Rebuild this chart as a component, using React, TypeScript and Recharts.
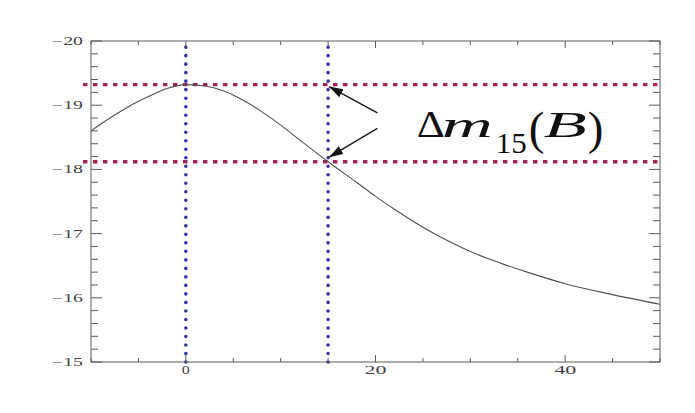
import { LineChart, Line, XAxis, YAxis, ReferenceLine, ReferenceDot } from 'recharts'

// B-band light curve (days from max vs absolute magnitude)
const days = [-10, -8, -6, -4, -2, 0, 2, 4, 6, 8, 10, 12, 15, 18, 20, 22, 25, 28, 30, 33, 36, 40, 45, 50]
const bMag = [
  -18.6, -18.8, -18.98, -19.13, -19.26, -19.32, -19.3, -19.22, -19.08, -18.9, -18.69, -18.46, -18.12,
  -17.8, -17.58, -17.38, -17.1, -16.86, -16.72, -16.55, -16.4, -16.22, -16.05, -15.9,
]

const xTicks = [-10, -5, 0, 5, 10, 15, 20, 25, 30, 35, 40, 45, 50]
const xLabelled = [0, 20, 40]
const yTicks = [
  -20, -19.8, -19.6, -19.4, -19.2, -19, -18.8, -18.6, -18.4, -18.2, -18, -17.8, -17.6, -17.4, -17.2, -17,
  -16.8, -16.6, -16.4, -16.2, -16, -15.8, -15.6, -15.4, -15.2, -15,
]
const yLabelled = [-20, -19, -18, -17, -16, -15]

const peakDay = 0
const laterDay = 15
const peakMag = -19.32
const laterMag = -18.12

// annotation anchors (data coords)
const arrowTail = { x: 20.2, yTop: -18.88, yBottom: -18.64 }
const labelAnchor = { x: 24.35, y: -18.505 }

const data = days.map((day, i) => ({ day, mag: bMag[i] }))

const AXIS = '#5a5a5a'
const LABEL_FONT = '"Liberation Serif", "DejaVu Serif", serif'
const RED = '#a3245a'
const BLUE = '#3434a6'

const fmt = (v: number) => (v < 0 ? `\u2212${Math.abs(v)}` : `${v}`)

function BottomTick({ x, y, payload }: any) {
  const major = xLabelled.includes(payload.value)
  return (
    <g>
      <line x1={x} x2={x} y1={y} y2={y - (major ? 7 : 4)} stroke={AXIS} />
      {major && (
        <text
          x={x}
          y={y + 12}
          textAnchor="middle"
          fontFamily={LABEL_FONT}
          fontSize={12}
          fill="#444"
          textLength={payload.value === 0 ? 8 : 22}
          lengthAdjust="spacingAndGlyphs"
        >
          {payload.value}
        </text>
      )}
    </g>
  )
}

function TopTick({ x, y, payload }: any) {
  const major = xLabelled.includes(payload.value)
  return <line x1={x} x2={x} y1={y} y2={y + (major ? 7 : 4)} stroke={AXIS} />
}

function LeftTick({ x, y, payload }: any) {
  const major = yLabelled.includes(payload.value)
  return (
    <g>
      <line x1={x} x2={x + (major ? 11 : 7)} y1={y} y2={y} stroke={AXIS} />
      {major && (
        <text
          x={x - 39}
          y={y + 4}
          textAnchor="start"
          fontFamily={LABEL_FONT}
          fontSize={12}
          fill="#444"
          textLength={31}
          lengthAdjust="spacingAndGlyphs"
        >
          {fmt(payload.value)}
        </text>
      )}
    </g>
  )
}

function RightTick({ x, y, payload }: any) {
  const major = yLabelled.includes(payload.value)
  return <line x1={x} x2={x - (major ? 11 : 7)} y1={y} y2={y} stroke={AXIS} />
}

function Arrow(props: any) {
  const { x1, y1, x2, y2 } = props
  return <line x1={x1} y1={y1} x2={x2} y2={y2} stroke="#1a1a1a" strokeWidth={1.4} markerEnd="url(#arrowHead)" />
}

function DeltaLabel({ cx, cy }: any) {
  const common = { fontFamily: LABEL_FONT, fill: '#111' }
  return (
    <g>
      <text x={cx} y={cy} fontSize={37} textLength={28} lengthAdjust="spacingAndGlyphs" {...common}>
        Δ
      </text>
      <text x={cx + 25} y={cy} fontSize={36} fontStyle="italic" textLength={51} lengthAdjust="spacingAndGlyphs" {...common}>
        m
      </text>
      <text x={cx + 79} y={cy + 16} fontSize={29} textLength={31} lengthAdjust="spacingAndGlyphs" {...common}>
        15
      </text>
      <text x={cx + 112} y={cy + 7} fontSize={47} {...common}>
        (
      </text>
      <text x={cx + 127} y={cy} fontSize={36} fontStyle="italic" textLength={43} lengthAdjust="spacingAndGlyphs" {...common}>
        B
      </text>
      <text x={cx + 171} y={cy + 7} fontSize={47} {...common}>
        )
      </text>
    </g>
  )
}

export default function App() {
  return (
    <div style={{ position: 'absolute', left: 0, top: 0, width: 695, height: 413, background: '#fff' }}>
      <LineChart width={695} height={413} data={data} margin={{ top: 0, right: 0, bottom: 0, left: 0 }}>
        <defs>
          <marker
            id="arrowHead"
            viewBox="0 0 14 9"
            refX={14}
            refY={4.5}
            markerWidth={14}
            markerHeight={9}
            markerUnits="userSpaceOnUse"
            orient="auto"
          >
            <path d="M0,0 L14,4.5 L0,9 z" fill="#111" />
          </marker>
        </defs>
        <XAxis
          xAxisId="bottom"
          dataKey="day"
          type="number"
          domain={[-10, 50]}
          allowDataOverflow
          ticks={xTicks}
          interval={0}
          height={51}
          tickSize={0}
          tickMargin={0}
          tickLine={false}
          tick={BottomTick}
          axisLine={{ stroke: AXIS }}
        />
        <XAxis
          xAxisId="top"
          orientation="top"
          dataKey="day"
          type="number"
          domain={[-10, 50]}
          allowDataOverflow
          ticks={xTicks}
          interval={0}
          height={41}
          tickSize={0}
          tickMargin={0}
          tickLine={false}
          tick={TopTick}
          axisLine={{ stroke: AXIS }}
        />
        <YAxis
          yAxisId="left"
          type="number"
          domain={[-20, -15]}
          reversed
          allowDataOverflow
          ticks={yTicks}
          interval={0}
          width={91}
          tickSize={0}
          tickMargin={0}
          tickLine={false}
          tick={LeftTick}
          axisLine={{ stroke: AXIS }}
        />
        <YAxis
          yAxisId="right"
          orientation="right"
          type="number"
          domain={[-20, -15]}
          reversed
          allowDataOverflow
          ticks={yTicks}
          interval={0}
          width={35}
          tickSize={0}
          tickMargin={0}
          tickLine={false}
          tick={RightTick}
          axisLine={{ stroke: AXIS }}
        />
        <ReferenceLine
          xAxisId="bottom"
          yAxisId="left"
          segment={[
            { x: -10.85, y: peakMag },
            { x: 50, y: peakMag },
          ]}
          ifOverflow="visible"
          stroke={RED}
          strokeWidth={3.4}
          strokeDasharray="4.5 5.5"
        />
        <ReferenceLine
          xAxisId="bottom"
          yAxisId="left"
          segment={[
            { x: -10.85, y: laterMag },
            { x: 50, y: laterMag },
          ]}
          ifOverflow="visible"
          stroke={RED}
          strokeWidth={3.4}
          strokeDasharray="4.5 5.5"
        />
        <ReferenceLine
          xAxisId="bottom"
          yAxisId="left"
          x={peakDay}
          stroke={BLUE}
          strokeWidth={3.6}
          strokeLinecap="round"
          strokeDasharray="0.01 8.5"
        />
        <ReferenceLine
          xAxisId="bottom"
          yAxisId="left"
          x={laterDay}
          stroke={BLUE}
          strokeWidth={3.6}
          strokeLinecap="round"
          strokeDasharray="0.01 8.5"
        />
        <Line
          xAxisId="bottom"
          yAxisId="left"
          dataKey="mag"
          type="monotone"
          stroke="#505050"
          strokeWidth={1.1}
          dot={false}
          isAnimationActive={false}
        />
        <ReferenceLine
          xAxisId="bottom"
          yAxisId="left"
          segment={[
            { x: arrowTail.x, y: arrowTail.yTop },
            { x: laterDay + 0.1, y: peakMag + 0.03 },
          ]}
          ifOverflow="visible"
          shape={Arrow}
        />
        <ReferenceLine
          xAxisId="bottom"
          yAxisId="left"
          segment={[
            { x: arrowTail.x, y: arrowTail.yBottom },
            { x: laterDay + 0.1, y: laterMag - 0.07 },
          ]}
          ifOverflow="visible"
          shape={Arrow}
        />
        <ReferenceDot
          xAxisId="bottom"
          yAxisId="left"
          x={labelAnchor.x}
          y={labelAnchor.y}
          r={0}
          shape={DeltaLabel}
        />
      </LineChart>
    </div>
  )
}
